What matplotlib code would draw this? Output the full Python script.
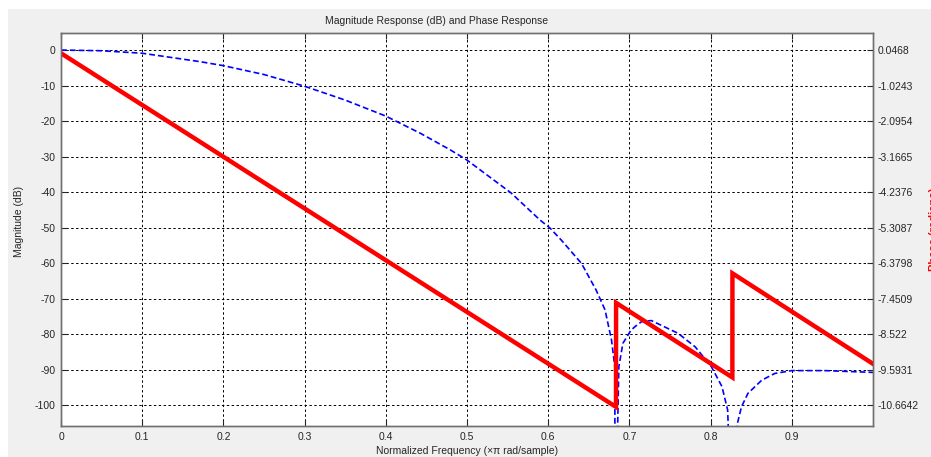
import matplotlib.pyplot as plt
from matplotlib.patches import Rectangle

plt.rcParams['font.family'] = ['Liberation Sans', 'DejaVu Sans']
plt.rcParams['font.size'] = 7.5
plt.rcParams['axes.unicode_minus'] = False

# magnitude response (dB); nulls go below the axis
freq_mag = [0, 0.05, 0.1, 0.172, 0.2, 0.25, 0.3, 0.35, 0.4, 0.443, 0.48, 0.5,
            0.554, 0.59, 0.602, 0.616, 0.641, 0.659, 0.67, 0.678, 0.682, 0.6825,
            0.687, 0.692, 0.702, 0.707, 0.715, 0.727, 0.76, 0.781, 0.801, 0.814,
            0.821, 0.827, 0.833, 0.838, 0.846, 0.863, 0.879, 0.9, 0.941, 1.0]
mag_db = [0, -0.2, -0.9, -3.3, -4.4, -6.9, -10.2, -14.1, -18.6, -23.5, -28.2, -31.0,
          -40.2, -47.9, -50.1, -53.5, -60.1, -67.6, -73.2, -81.7, -89.2, -140,
          -89.2, -82.6, -78.9, -77.9, -76.5, -76.2, -79.8, -83.6, -89.2, -94.8,
          -101.4, -140, -105.2, -100.5, -96.7, -93.0, -91.1, -90.3, -90.3, -90.8]

# phase response (radians), piecewise linear with jumps
freq_ph = [0, 0.6835, 0.6836, 0.8268, 0.8269, 1.0]
phase = [-0.05, -10.72, -7.58, -9.83, -6.69, -9.42]

phase_ticks = [0.0468, -1.0243, -2.0954, -3.1665, -4.2376, -5.3087, -6.3798,
               -7.4509, -8.522, -9.5931, -10.6642]
phase_labels = ['0.0468', '-1.0243', '-2.0954', '-3.1665', '-4.2376', '-5.3087',
                '-6.3798', '-7.4509', '-8.522', '-9.5931', '-10.6642']
db_ticks = list(range(0, -101, -10))
x_ticks = [0, 0.1, 0.2, 0.3, 0.4, 0.5, 0.6, 0.7, 0.8, 0.9]

fig = plt.figure(figsize=(9.31, 4.57), dpi=100)
fig.patch.set_facecolor('white')
fig.patches.append(Rectangle((8 / 931, 0), 1, 1 - 9 / 457, transform=fig.transFigure,
                             facecolor='#f0f0f0', edgecolor='none', zorder=-10))

ax = fig.add_axes([61 / 931, 1 - 426 / 457, 812 / 931, 393 / 457])
ax.set_facecolor('white')
ax.plot(freq_mag, mag_db, color='#0000ff', linewidth=1.2, dashes=(3.5, 1.8))
ax.set_xlim(0, 1)
ax.set_ylim(-105.9, 4.8)
ax.set_xticks(x_ticks)
ax.set_xticklabels(['0', '0.1', '0.2', '0.3', '0.4', '0.5', '0.6', '0.7', '0.8', '0.9'])
ax.set_yticks(db_ticks)
ax.grid(True, color='black', linewidth=0.7, dashes=(2.5, 2.5))
ax.tick_params(direction='in', length=4, width=0.8, colors='#262626', pad=4,
               top=True, right=False)
for s in ax.spines.values():
    s.set_color('#707070')
    s.set_linewidth(1.0)

ax2 = ax.twinx()
ax2.plot(freq_ph, phase, color='#ff0000', linewidth=3.2, solid_joinstyle='miter')
ax2.set_ylim(-11.296, 0.561)
ax2.set_yticks(phase_ticks)
ax2.set_yticklabels(phase_labels)
ax2.tick_params(direction='in', length=4, width=0.8, colors='#262626', pad=3)
for s in ax2.spines.values():
    s.set_color('#707070')
    s.set_linewidth(1.0)

ax.set_ylabel('Magnitude (dB)', color='#262626')
ax.yaxis.set_label_coords(-0.0456, 0.52)
ax.set_xlabel('Normalized Frequency (\u00d7\u03c0 rad/sample)', color='#262626')
ax.xaxis.set_label_coords(0.5, -0.052)
ax2.set_ylabel('Phase (radians)', color='#ff0000', fontweight='bold', fontsize=8)
ax2.yaxis.set_label_coords(1.0695, 0.5)

fig.text(437 / 931, 1 - 21 / 457, 'Magnitude Response (dB) and Phase Response',
         ha='center', va='center', color='#262626')

fig.savefig('out.png', dpi=100)
